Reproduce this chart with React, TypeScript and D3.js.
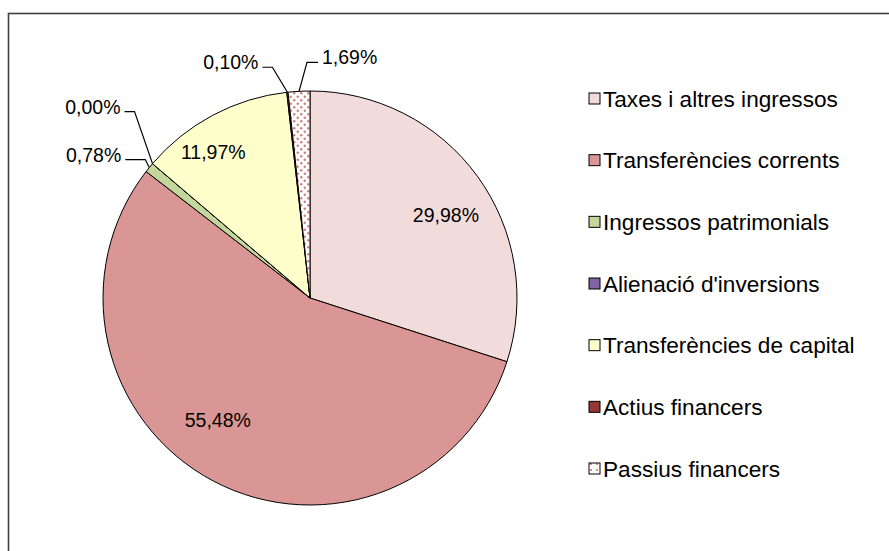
import React from "react";
import * as d3 from "d3";

const categories = [
  "Taxes i altres ingressos",
  "Transferències corrents",
  "Ingressos patrimonials",
  "Alienació d'inversions",
  "Transferències de capital",
  "Actius financers",
  "Passius financers",
];
const values = [29.98, 55.48, 0.78, 0.0, 11.97, 0.1, 1.69];
const labels = ["29,98%", "55,48%", "0,78%", "0,00%", "11,97%", "0,10%", "1,69%"];
const colors = ["#F2DCDB", "#D99694", "#C3D69B", "#8064A2", "#FFFFCC", "#953735", "url(#dots)"];
// inside labels: nudge from the arc centroid
const inside: Record<number, { dx: number; dy: number }> = {
  0: { dx: 2, dy: 14 },
  1: { dx: -15, dy: -24 },
  4: { dx: -19, dy: 0 },
};
// outside labels: leader offset from slice edge (elbow) and horizontal run direction
const outside: Record<number, { ox: number; oy: number; run: number }> = {
  2: { ox: -4, oy: -8, run: -20 },
  3: { ox: -18, oy: -52, run: -10 },
  5: { ox: -15, oy: -25, run: -10 },
  6: { ox: 8, oy: -29, run: 11 },
};

const W = 889;
const H = 551;
const cx = 310;
const cy = 298;
const R = 207;
const FONT = "'Liberation Sans', Arial, Helvetica, sans-serif";

export default function App() {
  const pie = d3
    .pie<number>()
    .sort(null)
    .value((d) => d)
    .startAngle(0)
    .endAngle(2 * Math.PI);
  const arcs = pie(values);
  const arc = d3.arc<d3.PieArcDatum<number>>().innerRadius(0).outerRadius(R);
  const labelArc = d3.arc<d3.PieArcDatum<number>>().innerRadius(R * 0.8).outerRadius(R * 0.8);

  const legendY = d3.scalePoint<string>().domain(categories).range([99, 469]);

  return (
    <svg
      width={W}
      height={H}
      style={{ position: "absolute", left: 0, top: 0, background: "#fff" }}
      fontFamily={FONT}
    >
      <defs>
        <pattern id="dots" width="7" height="7" patternUnits="userSpaceOnUse">
          <rect width="7" height="7" fill="#ffffff" />
          <circle cx="1.75" cy="1.75" r="1.2" fill="#C0504D" opacity="0.75" />
          <circle cx="5.25" cy="5.25" r="1.2" fill="#C0504D" opacity="0.75" />
        </pattern>
        <pattern id="dotsLegend" width="6" height="6" patternUnits="userSpaceOnUse" x="589" y="0">
          <rect width="6" height="6" fill="#ffffff" />
          <circle cx="2" cy="2" r="1.1" fill="#C0504D" opacity="0.8" />
        </pattern>
      </defs>
      <rect x={0} y={0} width={W} height={H} fill="#fff" />
      <rect x={8.5} y={13.5} width={W + 20} height={H + 20} fill="none" stroke="#3f3f3f" strokeWidth={1.6} />

      <g transform={`translate(${cx},${cy})`}>
        {arcs.map((a, i) => (
          <path key={i} d={arc(a) || ""} fill={colors[i]} stroke="#000" strokeWidth={1} strokeLinejoin="round" />
        ))}
        {arcs.map((a, i) => {
          const o = outside[i];
          if (!o) {
            const [x, y] = labelArc.centroid(a);
            const n = inside[i] || { dx: 0, dy: 0 };
            return (
              <text key={i} x={x + n.dx} y={y + n.dy} fontSize={19.5} textAnchor="middle" dominantBaseline="central" fill="#000">
                {labels[i]}
              </text>
            );
          }
          const mid = (a.startAngle + a.endAngle) / 2;
          const ex = R * Math.sin(mid);
          const ey = -R * Math.cos(mid);
          const bx = ex + o.ox;
          const by = ey + o.oy;
          const hx = bx + o.run;
          const tx = hx + (o.run < 0 ? -4 : 4);
          return (
            <g key={i}>
              <polyline points={`${ex},${ey} ${bx},${by} ${hx},${by}`} fill="none" stroke="#000" strokeWidth={1.2} />
              <text
                x={tx}
                y={by - 5}
                fontSize={19.5}
                textAnchor={o.run < 0 ? "end" : "start"}
                dominantBaseline="central"
                fill="#000"
              >
                {labels[i]}
              </text>
            </g>
          );
        })}
      </g>

      <g>
        {categories.map((c, i) => {
          const y = legendY(c) as number;
          return (
            <g key={c}>
              <rect
                x={589}
                y={y - 6}
                width={11}
                height={11}
                fill={i === 6 ? "url(#dotsLegend)" : colors[i]}
                stroke="#000"
                strokeWidth={1}
              />
              <text x={603} y={y} fontSize={22.6} dominantBaseline="central" fill="#000">
                {c}
              </text>
            </g>
          );
        })}
      </g>
    </svg>
  );
}
